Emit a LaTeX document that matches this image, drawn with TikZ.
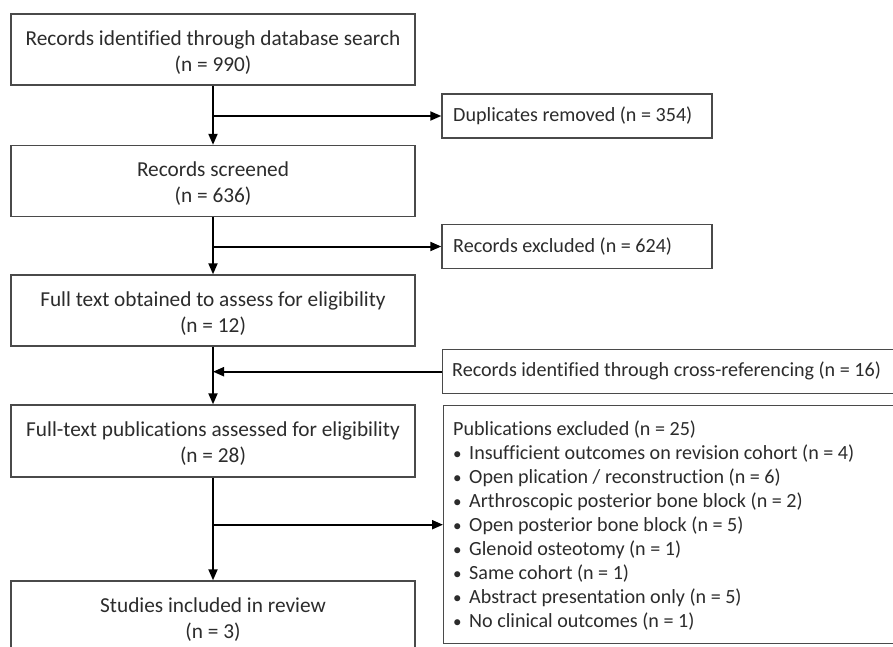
\documentclass[tikz,border=0pt]{standalone}
\usepackage{fontspec}
\setmainfont[Ligatures=NoCommon]{Carlito}
\usetikzlibrary{arrows.meta}
\definecolor{txt}{HTML}{2c2c2c}
\definecolor{frame}{HTML}{4a4a4a}
\newcommand{\bul}{\makebox[16pt][l]{\scalebox{0.85}{\textbullet}}}
\newcommand{\tstrut}{\rule{0pt}{20.6pt}}
\tikzset{
  tfont/.style={font=\fontsize{20.1}{24}\selectfont, text=txt},
  mfont/.style={font=\fontsize{21.3}{26}\selectfont, text=txt},
  box/.style={draw=frame, line width=1.4pt, fill=white, inner sep=0pt, align=center},
  mainbox/.style={box, mfont, minimum width=404pt, minimum height=71pt},
  sidebox/.style={box, minimum width=270pt, minimum height=44pt},
  arr/.style={line width=2pt, -{Triangle[length=11pt,width=9pt]}}
}
\begin{document}
\begin{tikzpicture}[x=1pt,y=-1pt]
\useasboundingbox (0,0) rectangle (893,647);
\clip (0,0) rectangle (893,647);
\fill[white] (0,0) rectangle (893,647);
\node[mainbox] (top) at (213,49.5) {\tstrut Records identified through database search\\(n = 990)};
\node[mainbox] (scr) at (213,181) {\tstrut Records screened\\(n = 636)};
\node[mainbox] (full) at (213,310.5) {\tstrut Full text obtained to assess for eligibility\\(n = 12)};
\node[mainbox, minimum height=72pt] (pubs) at (213,441) {\tstrut Full-text publications assessed for eligibility\\(n = 28)};
\node[mainbox] (stud) at (213,616.5) {\tstrut Studies included in review\\(n = 3)};
\node[sidebox] (dup) at (577,116) {};
\node[anchor=west, tfont, inner sep=0pt] (duptxt) at (453,116) {Duplicates removed (n = 354)};
\node[sidebox] (exc) at (577,246.5) {};
\node[anchor=west, tfont, inner sep=0pt] (exctxt) at (453,246.5) {Records excluded (n = 624)};
\node[box, anchor=north west, minimum width=480pt, minimum height=44pt] (xref) at (442,349) {};
\node[anchor=west, tfont, inner sep=0pt] (xreftxt) at (452,371) {Records identified through cross-referencing (n = 16)};
\node[box, anchor=north west, minimum width=480pt, minimum height=238pt] (pex) at (443,405) {};
\node[anchor=north west, align=left, tfont, inner sep=0pt] (pextxt) at (453,421)
{Publications excluded (n = 25)\\
\bul Insufficient outcomes on revision cohort (n = 4)\\
\bul Open plication / reconstruction (n = 6)\\
\bul Arthroscopic posterior bone block (n = 2)\\
\bul Open posterior bone block (n = 5)\\
\bul Glenoid osteotomy (n = 1)\\
\bul Same cohort (n = 1)\\
\bul Abstract presentation only (n = 5)\\
\bul No clinical outcomes (n = 1)};
\draw[arr] (top.south) -- (scr.north);
\draw[arr] (top.south |- dup.west) -- (dup.west);
\draw[arr] (scr.south) -- (full.north);
\draw[arr] (scr.south |- exc.west) -- (exc.west);
\draw[arr] (full.south) -- (pubs.north);
\draw[arr] (xref.west) -- (xref.west -| full.south);
\draw[arr] (pubs.south) -- (stud.north);
\draw[arr] (pubs.south |- pex.west) -- (pex.west);
\end{tikzpicture}
\end{document}
